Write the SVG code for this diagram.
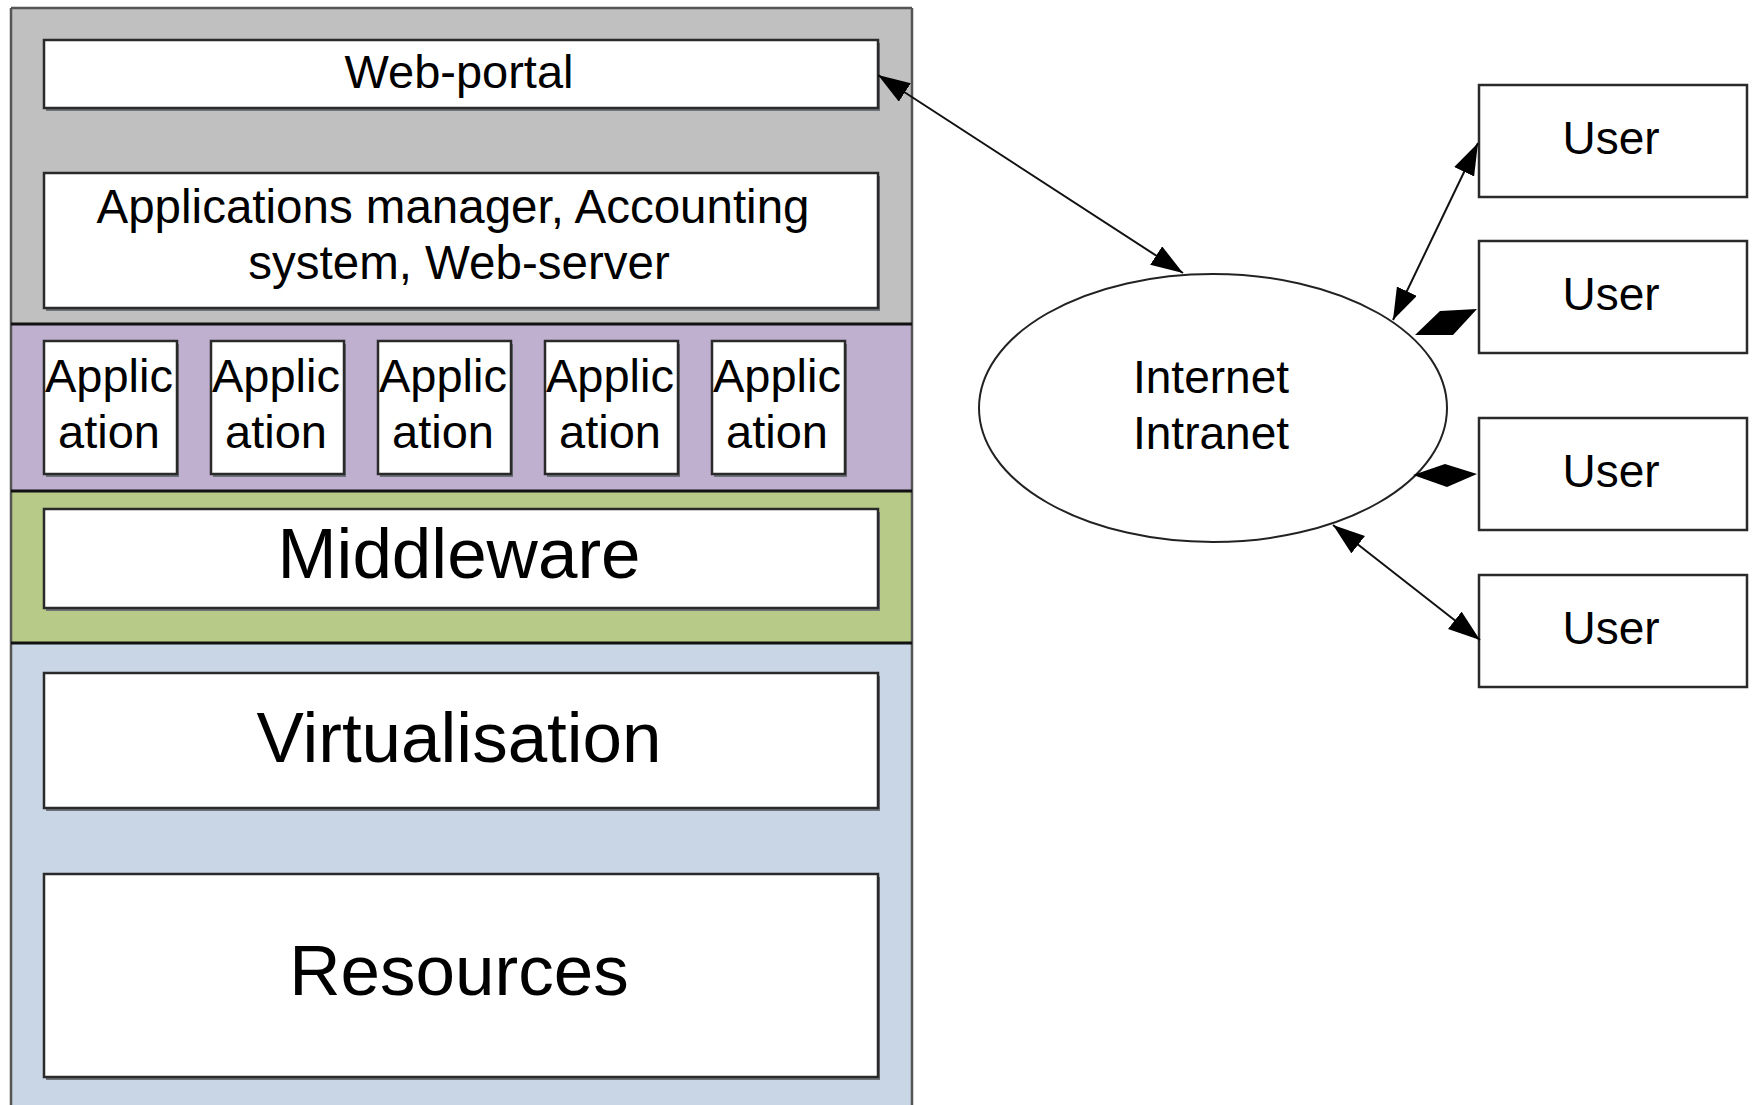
<svg xmlns="http://www.w3.org/2000/svg" width="1754" height="1105" viewBox="0 0 1754 1105">
<style>
.box{fill:#fff;stroke:#2a2a2a;stroke-width:2.5}
.shadow{fill:#6e737a}
.t{font-family:"Liberation Sans",Arial,sans-serif;fill:#000;text-anchor:middle}
.con{stroke:#111;stroke-width:2;fill:none}
.dia{fill:#000;stroke:none}
.sep{stroke:#111;stroke-width:3}
</style>
<defs>
<marker id="ah" markerUnits="userSpaceOnUse" markerWidth="34" markerHeight="24" refX="32" refY="11" orient="auto-start-reverse" viewBox="0 0 34 24">
<path d="M0,0 L32,11 L0,22 z" fill="#000"/>
</marker>
</defs>
<rect width="1754" height="1105" fill="#fff"/>
<g id="layers">
<rect x="11" y="8" width="901" height="316" fill="#c0c0c0"/>
<rect x="11" y="324" width="901" height="167" fill="#bfb0d0"/>
<rect x="11" y="491" width="901" height="152" fill="#b7ca87"/>
<rect x="11" y="643" width="901" height="470" fill="#c9d6e5"/>
<line x1="11" y1="8" x2="912" y2="8" stroke="#555" stroke-width="2.5"/>
<line x1="11" y1="8" x2="11" y2="1105" stroke="#555" stroke-width="2.5"/>
<line x1="912" y1="8" x2="912" y2="1105" stroke="#555" stroke-width="2.5"/>
<line class="sep" x1="11" y1="324" x2="912" y2="324"/>
<line class="sep" x1="11" y1="491" x2="912" y2="491"/>
<line class="sep" x1="11" y1="643" x2="912" y2="643"/>
</g>
<g id="web-portal">
<rect class="shadow" x="46" y="43" width="834" height="68"/>
<rect class="box" x="44" y="40" width="834" height="68"/>
<text class="t" x="459" y="88" font-size="47">Web-portal</text>
</g>
<g id="apps-manager">
<rect class="shadow" x="46" y="176" width="834" height="135"/>
<rect class="box" x="44" y="173" width="834" height="135"/>
<text class="t" x="453" y="223" font-size="47.5">Applications manager, Accounting</text>
<text class="t" x="459" y="279" font-size="47.5">system, Web-server</text>
</g>
<g id="app1">
<rect class="shadow" x="46" y="344" width="133" height="133"/>
<rect class="box" x="44" y="341" width="133" height="133"/>
<text class="t" x="109" y="392" font-size="47">Applic</text>
<text class="t" x="109" y="448" font-size="47">ation</text>
</g>
<g id="app2">
<rect class="shadow" x="213" y="344" width="133" height="133"/>
<rect class="box" x="211" y="341" width="133" height="133"/>
<text class="t" x="276" y="392" font-size="47">Applic</text>
<text class="t" x="276" y="448" font-size="47">ation</text>
</g>
<g id="app3">
<rect class="shadow" x="380" y="344" width="133" height="133"/>
<rect class="box" x="378" y="341" width="133" height="133"/>
<text class="t" x="443" y="392" font-size="47">Applic</text>
<text class="t" x="443" y="448" font-size="47">ation</text>
</g>
<g id="app4">
<rect class="shadow" x="547" y="344" width="133" height="133"/>
<rect class="box" x="545" y="341" width="133" height="133"/>
<text class="t" x="610" y="392" font-size="47">Applic</text>
<text class="t" x="610" y="448" font-size="47">ation</text>
</g>
<g id="app5">
<rect class="shadow" x="714" y="344" width="133" height="133"/>
<rect class="box" x="712" y="341" width="133" height="133"/>
<text class="t" x="777" y="392" font-size="47">Applic</text>
<text class="t" x="777" y="448" font-size="47">ation</text>
</g>
<g id="middleware">
<rect class="shadow" x="46" y="512" width="834" height="99"/>
<rect class="box" x="44" y="509" width="834" height="99"/>
<text class="t" x="459" y="578" font-size="71">Middleware</text>
</g>
<g id="virtualisation">
<rect class="shadow" x="46" y="676" width="834" height="135"/>
<rect class="box" x="44" y="673" width="834" height="135"/>
<text class="t" x="459" y="762" font-size="71">Virtualisation</text>
</g>
<g id="resources">
<rect class="shadow" x="46" y="877" width="834" height="203"/>
<rect class="box" x="44" y="874" width="834" height="203"/>
<text class="t" x="459" y="995" font-size="71">Resources</text>
</g>
<g id="internet">
<ellipse cx="1213" cy="408" rx="234" ry="134" fill="#fff" stroke="#222" stroke-width="2"/>
<text class="t" x="1211" y="393" font-size="46">Internet</text>
<text class="t" x="1211" y="449" font-size="46">Intranet</text>
</g>
<g id="user1">
<rect class="box" x="1479" y="85" width="268" height="112" stroke-width="2"/>
<text class="t" x="1611" y="154" font-size="46">User</text>
</g>
<g id="user2">
<rect class="box" x="1479" y="241" width="268" height="112" stroke-width="2"/>
<text class="t" x="1611" y="310" font-size="46">User</text>
</g>
<g id="user3">
<rect class="box" x="1479" y="418" width="268" height="112" stroke-width="2"/>
<text class="t" x="1611" y="487" font-size="46">User</text>
</g>
<g id="user4">
<rect class="box" x="1479" y="575" width="268" height="112" stroke-width="2"/>
<text class="t" x="1611" y="644" font-size="46">User</text>
</g>
<g id="connectors">
<line class="con" x1="878" y1="75" x2="1183" y2="273" marker-start="url(#ah)" marker-end="url(#ah)"/>
<line class="con" x1="1478" y1="143" x2="1393" y2="320" marker-start="url(#ah)" marker-end="url(#ah)"/>
<polygon class="dia" points="1415,335 1440,311 1477,309 1453,335"/>
<polygon class="dia" points="1413,475 1445,464 1477,474 1447,487"/>
<line class="con" x1="1333" y1="525" x2="1480" y2="640" marker-start="url(#ah)" marker-end="url(#ah)"/>
</g>
</svg>
